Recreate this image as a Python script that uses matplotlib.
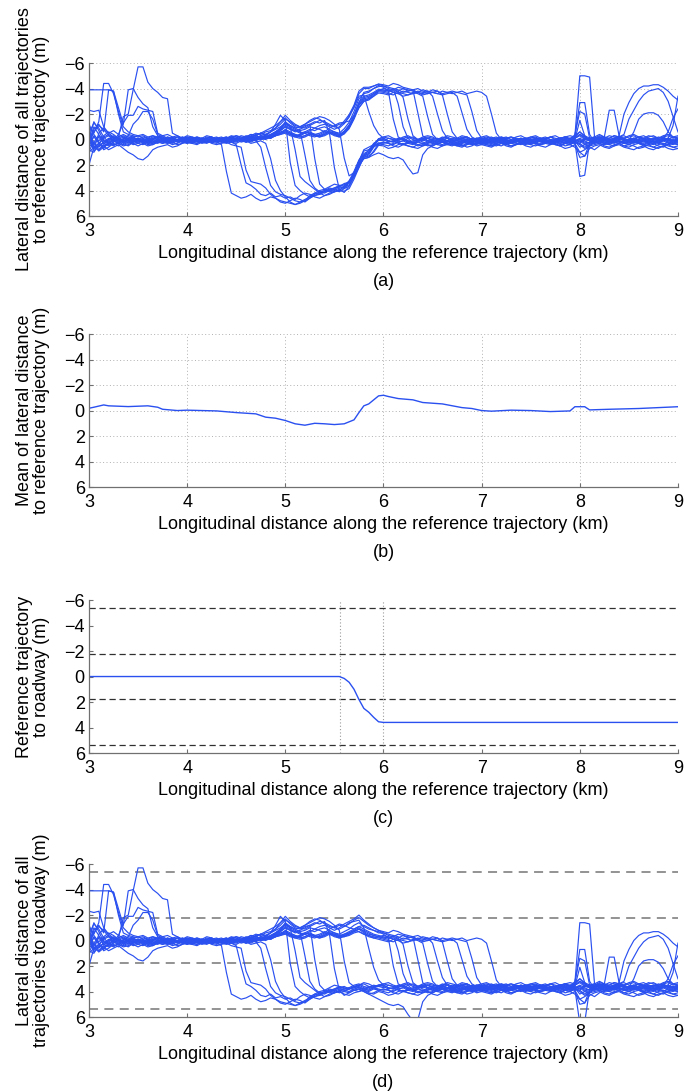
import numpy as np
import matplotlib
matplotlib.use("Agg")
import matplotlib.pyplot as plt

plt.rcParams['font.family'] = ['Liberation Sans', 'DejaVu Sans']

# sample positions along the reference trajectory (km), every 50 m
km = np.round(3.0 + 0.05 * np.arange(121), 2)

# reference trajectory to roadway (m), panel (c)
ref_road = [0.0] * 52 + [0.15, 0.45, 1.0, 1.8, 2.5, 2.8, 3.2, 3.55] + [3.6] * 61
ref_start = 5.556
ref_end = 6.0

# mean lateral distance to reference trajectory, panel (b)
mean_km = [3.0, 3.05, 3.15, 3.2, 3.4, 3.6, 3.7, 3.75, 3.9, 4.0, 4.3, 4.5, 4.7, 4.8,
           4.9, 5.0, 5.1, 5.2, 5.3, 5.4, 5.5, 5.6, 5.7, 5.75, 5.8, 5.85, 5.95, 6.0,
           6.05, 6.15, 6.3, 6.4, 6.6, 6.8, 6.9, 7.0, 7.1, 7.3, 7.5, 7.7, 7.9, 7.95,
           8.05, 8.1, 8.3, 8.6, 9.0]
mean_dist = [-0.18, -0.26, -0.44, -0.37, -0.31, -0.37, -0.26, -0.1, 0.0, -0.03, 0.03,
             0.16, 0.26, 0.52, 0.6, 0.78, 1.04, 1.15, 1.0, 1.04, 1.1, 1.04, 0.73, 0.16,
             -0.37, -0.52, -1.15, -1.2, -1.1, -0.94, -0.84, -0.63, -0.52, -0.23, -0.16,
             0.0, 0.05, -0.03, 0.0, 0.08, 0.03, -0.3, -0.3, -0.05, -0.1, -0.16, -0.3]

# lane markings (m from reference lane centre)
lane_lines = [-5.4, -1.8, 1.8, 5.4]

# lateral position of each vehicle trajectory to roadway (m), one row per km
traj01 = [-3.9, -3.9, -3.9, -3.9, -3.9, -3.8, -2.0, -0.6, -0.4, -0.3, -0.2, -0.3, -0.1, 0.0, -0.2, -0.3, -0.1, 0.1, 0.0, -0.2,
          -0.1, 0.0, 0.1, 0.0, -0.1, 0.1, 0.2, 0.4, 2.5, 4.2, 4.4, 4.6, 4.5, 4.3, 4.6, 4.8, 4.7, 4.5, 4.6, 4.9,
          5.0, 4.8, 4.6, 4.7, 4.9, 4.6, 4.4, 4.3, 4.1, 4.0, 3.8, 3.7, 3.9, 3.8, 3.6, 3.7, 3.8, 3.9, 3.7, 3.8,
          3.9, 3.8, 3.7, 3.9, 4.0, 3.8, 3.7, 3.6, 3.8, 3.9, 3.7, 3.8, 3.6, 3.7, 3.9, 3.8, 3.7, 3.6, 3.8, 3.7,
          3.6, 3.7, 3.8, 3.6, 3.5, 3.7, 3.8, 3.7, 3.6, 3.5, 3.6, 3.8, 3.7, 3.6, 3.7, 3.8, 3.6, 3.7, 3.9, 3.8,
          3.6, 3.9, 4.1, 3.8, 3.7, 3.9, 4.0, 3.8, 3.7, 3.9, 4.0, 3.8, 3.6, 3.7, 3.9, 4.0, 3.8, 3.7, 3.9, 4.0,
          3.8]
traj02 = [-1.0, -0.5, -1.4, -4.4, -4.4, -3.6, -2.2, -1.0, -0.6, -0.4, -0.3, -0.4, -0.2, -0.3, -0.1, -0.2, 0.0, -0.1, 0.1, 0.0,
          0.1, -0.1, 0.0, 0.2, 0.1, 0.0, 0.1, 0.2, 0.3, 0.2, 0.4, 2.0, 3.4, 3.6, 3.9, 4.3, 4.4, 4.2, 4.5, 4.4,
          4.6, 4.5, 4.7, 4.4, 4.2, 4.3, 4.5, 4.6, 4.4, 4.2, 4.1, 3.9, 4.0, 4.1, 3.9, 3.8, 4.0, 4.2, 4.4, 4.6,
          4.8, 5.0, 5.1, 5.0, 5.2, 5.8, 6.3, 6.2, 4.8, 4.3, 4.1, 3.9, 3.8, 3.9, 4.0, 3.8, 3.7, 3.9, 4.0, 3.8,
          3.7, 3.8, 3.9, 3.7, 3.6, 3.8, 3.9, 3.8, 3.7, 3.8, 3.9, 3.7, 3.6, 3.8, 3.9, 3.7, 3.8, 3.6, 3.5, 3.7,
          4.2, 4.0, 3.8, 3.9, 3.7, 3.6, 3.8, 3.9, 3.7, 3.8, 3.9, 3.7, 3.8, 4.0, 3.9, 3.7, 3.8, 3.9, 4.0, 3.8,
          3.9]
traj03 = [2.0, 0.6, 0.3, 0.5, 0.8, 0.6, 0.4, 0.7, 1.0, 1.2, 1.5, 1.6, 1.3, 0.8, 0.6, 0.5, 0.4, 0.6, 0.5, 0.3,
          0.2, 0.3, 0.4, 0.2, 0.1, 0.3, 0.4, 0.3, 0.2, 0.4, 0.5, 0.6, 2.4, 3.3, 3.4, 3.5, 3.8, 4.3, 4.6, 4.8,
          4.9, 5.0, 5.1, 4.9, 4.8, 4.6, 4.3, 4.1, 4.2, 4.0, 3.9, 3.7, 3.6, 3.8, 3.7, 3.5, 3.4, 3.6, 3.7, 3.5,
          3.4, 3.5, 3.6, 3.7, 3.5, 3.4, 3.6, 3.7, 3.5, 3.4, 3.5, 3.6, 3.4, 3.5, 3.7, 3.6, 3.5, 3.4, 3.6, 3.5,
          3.6, 3.5, 3.4, 3.6, 3.7, 3.5, 3.4, 3.5, 3.6, 3.7, 3.5, 3.4, 3.6, 3.5, 3.4, 3.6, 3.5, 3.4, 3.6, 3.5,
          3.3, 3.6, 3.5, 3.4, 3.6, 3.5, 3.3, 3.4, 3.6, 3.5, 3.4, 3.3, 3.5, 3.6, 3.4, 3.3, 3.5, 3.4, 3.3, 3.5,
          3.4]
traj04 = [0.5, -0.8, -1.2, -0.6, -3.9, -3.8, -2.5, -1.2, -3.9, -4.0, -3.3, -2.8, -2.5, -1.0, -0.3, -0.1, 0.0, -0.2, 0.1, 0.0,
          -0.2, 0.0, 0.1, -0.1, 0.0, 0.2, 0.1, -0.1, 0.0, 0.2, 0.3, 0.1, 0.2, 0.0, 0.1, 0.6, 2.2, 3.6, 4.1, 4.3,
          4.4, 4.6, 4.8, 4.9, 4.7, 4.5, 4.2, 4.0, 3.9, 4.1, 4.0, 3.8, 3.9, 4.0, 3.8, 3.7, 3.9, 4.0, 3.8, 3.9,
          4.0, 4.1, 3.9, 3.8, 4.0, 4.1, 4.2, 4.0, 3.9, 4.0, 4.1, 3.9, 3.8, 4.0, 4.1, 3.9, 4.0, 4.2, 4.1, 3.9,
          3.9, 4.0, 4.1, 3.9, 3.8, 4.0, 4.1, 4.0, 3.8, 3.9, 4.0, 4.1, 3.9, 3.8, 3.9, 4.0, 4.1, 3.9, 4.0, 4.2,
          4.6, 4.4, 4.1, 4.0, 3.9, 4.1, 4.2, 4.0, 3.9, 4.1, 4.2, 4.0, 3.9, 4.1, 4.0, 4.2, 4.3, 4.1, 4.0, 4.2,
          4.1]
traj05 = [-0.9, 0.4, -0.2, 0.3, 0.1, -0.1, -0.2, -1.8, -2.0, -3.9, -5.7, -5.7, -4.5, -4.0, -3.7, -3.3, -3.2, -0.5, -0.3, -0.1,
          0.0, -0.2, -0.1, 0.1, 0.0, -0.1, 0.1, 0.0, 0.2, 0.1, -0.1, 0.0, 0.1, 0.3, 0.2, 0.1, 0.3, 1.5, 3.2, 4.0,
          4.5, 4.9, 5.1, 5.0, 4.8, 4.4, 4.2, 4.3, 4.1, 3.9, 3.8, 3.6, 3.7, 3.8, 3.6, 3.5, 3.7, 3.8, 3.6, 3.5,
          3.6, 3.8, 3.7, 3.5, 3.6, 3.8, 3.9, 3.7, 3.6, 3.5, 3.7, 3.8, 3.6, 3.7, 3.8, 3.6, 3.5, 3.7, 3.8, 3.6,
          3.7, 3.8, 3.6, 3.5, 3.7, 3.8, 3.7, 3.6, 3.8, 3.9, 3.7, 3.6, 3.5, 3.7, 3.8, 3.6, 3.7, 3.5, 3.6, 3.8,
          3.9, 3.5, 3.6, 3.7, 3.5, 3.6, 3.8, 3.7, 3.5, 3.6, 3.8, 3.7, 3.6, 3.5, 3.7, 3.8, 3.6, 3.5, 3.7, 3.6,
          3.7]
traj06 = [1.0, 0.6, 0.8, 0.5, 0.3, 0.1, -0.4, -1.3, -1.9, -1.9, -2.6, -2.4, -2.3, -2.2, -0.5, -0.3, -0.4, -0.2, -0.3, -0.1,
          -0.3, -0.2, 0.0, -0.1, -0.3, -0.2, 0.0, 0.1, -0.1, -0.2, 0.0, -0.1, -0.3, -0.2, -0.4, -0.5, -0.3, -0.6, -1.2, -1.9,
          -1.5, 1.8, 3.6, 4.0, 4.3, 4.5, 4.4, 4.2, 4.0, 3.9, 4.1, 4.0, 3.8, 3.7, 3.9, 4.0, 3.8, 3.6, 3.7, 3.9,
          3.8, 3.9, 4.0, 3.8, 3.7, 3.9, 4.0, 3.8, 3.9, 4.1, 4.0, 3.8, 3.7, 3.9, 4.0, 4.1, 3.9, 3.8, 4.0, 3.9,
          3.8, 3.9, 4.0, 4.1, 3.9, 3.8, 3.9, 4.0, 3.9, 3.8, 3.7, 3.9, 4.0, 3.9, 3.8, 4.0, 4.1, 3.9, 3.8, 3.9,
          3.7, 4.0, 4.2, 4.4, 4.1, 3.9, 4.0, 4.1, 3.9, 3.8, 4.0, 4.1, 4.3, 4.2, 4.0, 3.9, 4.1, 4.2, 4.0, 3.9,
          4.0]
traj07 = [-2.3, -2.2, -2.3, -1.0, -0.5, -0.7, -0.4, -0.2, 0.0, 0.2, 0.1, -0.1, 0.3, 0.4, 0.2, 0.1, 0.3, 0.2, 0.0, 0.1,
          0.2, 0.0, 0.1, 0.3, 0.2, 0.0, -0.1, 0.1, 0.0, -0.2, -0.1, 0.0, 0.2, 0.1, -0.1, -0.3, -0.2, -0.4, -0.6, -0.9,
          -1.3, -1.0, 0.8, 2.9, 3.3, 3.6, 3.9, 4.2, 4.4, 4.3, 4.1, 4.0, 4.2, 4.3, 4.1, 4.0, 3.9, 4.1, 4.2, 4.0,
          4.1, 4.3, 4.2, 4.0, 3.9, 4.1, 4.2, 4.3, 4.1, 4.0, 4.2, 4.3, 4.1, 4.0, 3.9, 4.1, 4.2, 4.0, 3.9, 4.1,
          4.0, 3.9, 3.8, 4.0, 4.1, 3.9, 3.8, 3.9, 4.0, 3.8, 3.7, 3.9, 4.0, 3.8, 3.9, 3.8, 3.7, 3.9, 4.0, 3.8,
          4.0, 4.3, 4.1, 3.8, 3.9, 4.0, 3.9, 3.8, 3.9, 4.1, 4.0, 3.8, 3.9, 4.0, 4.1, 4.2, 4.0, 3.9, 4.1, 4.2,
          4.3]
traj08 = [0.3, -0.6, -1.1, -0.8, -0.3, 0.1, 0.3, 0.5, 0.4, 0.2, 0.0, 0.3, 0.5, 0.4, 0.2, 0.3, 0.1, 0.2, 0.4, 0.3,
          0.1, 0.2, 0.3, 0.1, 0.0, 0.1, 0.2, 0.0, -0.1, 0.1, 0.2, 0.0, -0.2, -0.1, 0.0, -0.3, -0.2, -0.1, -0.4, -0.7,
          -1.0, -0.8, -0.6, -0.7, 1.2, 3.2, 3.8, 4.1, 4.0, 3.8, 3.9, 4.1, 4.0, 3.8, 3.7, 3.6, 3.8, 3.9, 3.7, 3.6,
          3.7, 3.5, 3.6, 3.8, 3.7, 3.5, 3.4, 3.6, 3.7, 3.5, 3.6, 3.7, 3.5, 3.4, 3.6, 3.7, 3.5, 3.6, 3.8, 3.7,
          3.5, 3.6, 3.7, 3.5, 3.4, 3.6, 3.7, 3.8, 3.6, 3.5, 3.7, 3.6, 3.5, 3.4, 3.6, 3.7, 3.5, 3.6, 3.7, 3.5,
          3.2, 3.4, 3.6, 3.5, 3.3, 3.4, 3.6, 3.5, 3.4, 3.3, 3.5, 3.6, 3.4, 3.3, 3.5, 3.6, 3.4, 3.5, 3.6, 3.4,
          3.5]
traj09 = [-0.4, 0.9, 0.5, 0.2, 0.0, -0.2, 0.1, 0.0, -0.3, -1.2, -1.6, -2.2, -2.2, -1.6, -0.4, -0.2, 0.0, -0.1, 0.1, -0.2,
          0.0, 0.1, -0.1, 0.0, 0.2, 0.1, -0.1, -0.2, 0.0, 0.1, -0.1, -0.3, -0.2, -0.4, -0.3, -0.5, -0.7, -0.9, -1.1, -1.4,
          -1.7, -1.3, -1.0, -0.9, -1.1, -1.2, 1.5, 3.5, 3.9, 3.7, 3.5, 3.6, 3.8, 3.7, 3.5, 3.4, 3.6, 3.7, 3.5, 3.6,
          3.5, 3.7, 3.8, 3.6, 3.5, 3.7, 3.8, 3.6, 3.5, 3.7, 3.6, 3.5, 3.7, 3.8, 3.6, 3.5, 3.6, 3.7, 3.5, 3.6,
          3.8, 3.7, 3.5, 3.6, 3.8, 3.9, 3.7, 3.6, 3.7, 3.8, 3.6, 3.5, 3.7, 3.8, 3.6, 3.7, 3.9, 3.8, 3.6, 3.7,
          3.5, 3.7, 3.9, 3.7, 3.6, 3.8, 3.7, 3.6, 3.8, 3.9, 3.7, 3.6, 3.8, 3.7, 3.6, 3.8, 3.9, 3.7, 3.6, 3.8,
          3.7]
traj10 = [0.6, 0.2, 0.8, 0.4, 0.0, -0.3, -0.1, 0.2, 0.3, 0.1, -0.1, 0.0, 0.2, 0.3, 0.1, 0.0, 0.2, 0.4, 0.3, 0.1,
          0.3, 0.2, 0.0, -0.1, 0.1, 0.2, 0.0, -0.1, -0.2, 0.0, 0.1, -0.1, -0.2, 0.0, -0.1, -0.3, -0.2, -0.4, -0.6, -0.8,
          -1.1, -0.9, -0.7, -0.8, -1.0, -1.2, -1.4, -1.3, -1.5, -0.5, 2.2, 3.9, 4.3, 4.1, 3.9, 3.8, 4.0, 4.2, 4.1, 3.9,
          3.8, 3.9, 4.1, 4.2, 4.0, 3.9, 3.8, 4.0, 4.1, 3.9, 3.8, 4.0, 4.1, 3.9, 3.8, 4.0, 4.1, 3.9, 3.8, 3.9,
          4.0, 4.1, 4.2, 4.0, 3.9, 4.1, 4.2, 4.0, 3.9, 4.1, 4.2, 4.0, 4.1, 4.2, 4.0, 3.9, 4.1, 4.3, 4.2, 4.0,
          5.0, 4.9, 4.3, 4.1, 4.0, 4.2, 4.3, 4.1, 4.0, 4.2, 4.3, 4.4, 4.2, 4.1, 4.3, 4.4, 4.2, 4.1, 4.3, 4.4,
          4.3]
traj11 = [-0.5, -1.3, -0.9, -0.2, 0.2, 0.4, 0.3, 0.1, 0.2, 0.4, 0.3, 0.1, 0.0, 0.2, 0.3, 0.1, -0.1, 0.0, 0.2, 0.1,
          -0.1, 0.0, 0.2, 0.1, -0.1, -0.2, 0.0, 0.1, -0.1, -0.3, -0.2, 0.0, -0.2, -0.4, -0.3, -0.5, -0.4, -0.6, -0.8, -1.0,
          -1.3, -1.1, -0.9, -1.0, -1.2, -1.4, -1.6, -1.8, -1.7, -1.5, -1.2, -0.8, 1.6, 3.3, 3.6, 3.5, 3.3, 3.4, 3.6, 3.5,
          3.4, 3.3, 3.5, 3.6, 3.4, 3.3, 3.5, 3.6, 3.4, 3.3, 3.4, 3.6, 3.5, 3.3, 3.4, 3.5, 3.3, 3.4, 3.6, 3.5,
          3.4, 3.3, 3.5, 3.6, 3.4, 3.5, 3.6, 3.4, 3.3, 3.5, 3.4, 3.3, 3.5, 3.6, 3.4, 3.3, 3.5, 3.4, 3.3, 3.4,
          3.0, 3.3, 3.5, 3.4, 3.2, 3.4, 3.5, 3.3, 3.4, 3.5, 3.3, 3.2, 3.4, 3.5, 3.3, 3.4, 3.5, 3.3, 3.2, 3.4,
          3.3]
traj12 = [0.2, -1.0, -0.4, 0.3, 0.5, 0.2, 0.0, -0.2, 0.1, 0.3, 0.2, 0.0, -0.1, 0.1, 0.2, 0.0, -0.2, -0.1, 0.0, 0.2,
          0.1, -0.1, -0.2, 0.0, 0.1, -0.1, -0.2, 0.0, 0.1, -0.1, -0.3, -0.2, -0.1, -0.3, -0.5, -0.4, -0.6, -0.7, -0.9, -1.2,
          -1.6, -1.4, -1.1, -1.0, -1.2, -1.5, -1.7, -1.6, -1.3, -1.1, -1.0, -1.2, -1.1, -1.4, -1.5, -1.6, -1.0, 0.6, 2.1, 3.1,
          3.5, 3.7, 3.8, 3.6, 3.5, 3.7, 3.9, 3.8, 3.6, 3.5, 3.7, 3.8, 3.6, 3.5, 3.7, 3.8, 3.9, 3.7, 3.6, 3.8,
          3.7, 3.6, 3.8, 3.9, 3.7, 3.6, 3.8, 3.7, 3.6, 3.5, 3.7, 3.8, 3.6, 3.7, 3.8, 3.6, 3.5, 3.7, 3.8, 3.6,
          3.8, 3.6, 3.7, 3.9, 3.8, 3.6, 3.7, 3.8, 3.6, 3.5, 3.7, 3.0, 2.0, 1.6, 1.5, 1.5, 1.7, 2.2, 3.0, 3.4,
          3.6]
traj13 = [0.8, 1.0, 0.4, -0.2, -0.4, -0.1, 0.2, 0.0, -0.3, -0.2, 0.1, 0.2, 0.0, -0.2, -0.1, 0.1, 0.0, -0.1, 0.2, 0.1,
          0.0, 0.2, 0.1, -0.1, 0.0, 0.2, 0.1, -0.1, -0.2, 0.0, 0.1, -0.1, 0.0, 0.2, 0.0, -0.2, -0.1, -0.3, -0.5, -0.7,
          -1.0, -0.8, -0.7, -0.5, -0.6, -0.8, -0.7, -0.9, -1.0, -0.8, -0.6, -0.5, -0.7, -0.9, -1.2, -1.4, -1.1, -0.9, -0.8, -0.7,
          -0.5, -0.2, 2.0, 3.4, 3.6, 3.8, 3.9, 3.7, 3.6, 3.8, 3.9, 4.0, 3.8, 3.7, 3.9, 4.0, 3.8, 3.7, 3.6, 3.8,
          3.9, 3.8, 3.6, 3.7, 3.9, 4.0, 3.8, 3.7, 3.9, 4.0, 3.8, 3.9, 4.0, 3.9, 3.7, 3.8, 4.0, 3.9, 3.8, 3.3,
          -1.4, -1.4, -1.3, 3.4, 3.7, 3.9, 3.8, 3.6, 3.7, 3.9, 3.8, 3.7, 3.9, 4.0, 3.8, 3.7, 3.9, 4.0, 3.8, 3.9,
          4.0]
traj14 = [-0.2, 0.5, 0.9, 0.6, 0.3, 0.0, -0.2, -0.4, -0.2, 0.0, 0.2, 0.1, -0.1, -0.3, -0.2, 0.0, 0.1, -0.1, -0.2, 0.0,
          0.1, 0.0, -0.2, -0.1, 0.1, 0.0, -0.1, 0.1, 0.2, 0.0, -0.1, 0.1, 0.0, -0.2, -0.3, -0.1, -0.4, -0.3, -0.6, -0.9,
          -1.2, -1.0, -0.8, -0.6, -0.5, -0.7, -0.9, -0.8, -0.6, -0.9, -1.1, -1.3, -1.2, -1.0, -0.9, -1.1, -1.2, -1.0, -0.8, -0.6,
          -0.6, -0.5, -0.4, 0.8, 2.6, 3.5, 3.9, 4.1, 4.0, 3.8, 3.7, 3.9, 4.0, 3.8, 3.7, 3.9, 4.1, 4.0, 3.8, 3.7,
          3.8, 4.0, 4.1, 3.9, 3.8, 3.9, 4.1, 4.0, 3.8, 3.9, 4.0, 3.8, 3.7, 3.9, 4.0, 3.8, 3.9, 4.1, 4.0, 3.8,
          3.9, 4.2, 4.0, 3.8, 3.7, 3.4, 1.3, 1.3, 3.3, 3.6, 3.8, 3.9, 3.7, 3.6, 3.8, 3.9, 3.7, 3.6, 3.8, 3.9,
          3.7]
traj15 = [0.4, -0.2, 0.2, 0.8, 0.6, 0.3, 0.5, 0.2, 0.0, 0.1, 0.3, 0.4, 0.2, 0.0, 0.1, 0.3, 0.2, 0.0, 0.1, 0.2,
          0.3, 0.1, 0.0, 0.2, 0.3, 0.1, 0.0, 0.2, 0.1, -0.1, 0.0, 0.2, 0.1, -0.1, 0.0, -0.2, -0.1, -0.2, -0.4, -0.6,
          -0.7, -0.5, -0.4, -0.3, -0.5, -0.6, -0.4, -0.5, -0.7, -0.6, -0.4, -0.3, -0.5, -0.6, -0.8, -1.0, -0.7, -0.5, -0.4, -0.3,
          -0.2, -0.1, -0.3, -0.2, 0.3, 2.0, 3.3, 3.6, 3.5, 3.7, 3.8, 3.6, 3.5, 3.7, 3.8, 3.6, 3.5, 3.4, 3.6, 3.7,
          3.6, 3.5, 3.7, 3.8, 3.6, 3.5, 3.4, 3.6, 3.7, 3.5, 3.6, 3.8, 3.7, 3.5, 3.6, 3.7, 3.5, 3.4, 3.6, 3.8,
          6.5, 6.4, 3.8, 3.6, 3.5, 3.7, 3.8, 3.6, 3.5, 3.7, 3.6, 3.5, 3.7, 3.8, 3.6, 3.5, 3.7, 3.6, 3.5, 3.7,
          3.6]
traj16 = [-1.2, -0.4, 0.1, -0.3, -0.6, -0.4, -0.1, 0.1, 0.0, -0.2, -0.3, -0.1, 0.1, 0.2, 0.0, -0.1, 0.1, 0.0, -0.2, -0.1,
          -0.2, -0.1, 0.1, 0.0, -0.1, -0.2, 0.0, 0.1, -0.1, -0.2, -0.3, -0.1, 0.0, -0.2, -0.3, -0.5, -0.4, -0.6, -0.9, -1.4,
          -1.9, -1.5, -1.2, -1.0, -0.9, -1.1, -1.3, -1.5, -1.4, -1.2, -1.0, -0.9, -1.1, -1.3, -1.6, -1.8, -1.5, -1.2, -1.0, -0.8,
          -0.7, -0.6, -0.8, -0.7, -0.5, -0.4, -0.3, 1.5, 3.3, 3.7, 3.9, 3.8, 3.6, 3.7, 3.9, 4.0, 3.8, 3.7, 3.9, 4.0,
          3.8, 3.7, 3.9, 3.8, 3.6, 3.7, 3.9, 3.8, 3.7, 3.6, 3.8, 3.9, 3.7, 3.6, 3.8, 3.9, 3.7, 3.8, 3.9, 3.7,
          3.6, 3.8, 3.9, 3.7, 3.6, 3.8, 3.9, 3.7, 3.3, 1.6, 0.7, 0.0, -0.4, -0.6, -0.6, -0.7, -0.7, -0.5, -0.2, 0.2,
          0.5]
traj17 = [0.9, 0.2, -0.3, 0.0, 0.3, 0.5, 0.2, -0.1, 0.1, 0.3, 0.5, 0.3, 0.1, -0.1, 0.0, 0.2, 0.3, 0.1, 0.0, 0.1,
          0.2, 0.3, 0.1, 0.0, 0.2, 0.1, -0.1, 0.0, 0.2, 0.1, 0.0, -0.1, 0.1, 0.0, -0.2, -0.1, -0.3, -0.2, -0.4, -0.5,
          -0.8, -0.6, -0.4, -0.2, -0.3, -0.5, -0.4, -0.3, -0.5, -0.7, -0.6, -0.4, -0.3, -0.5, -0.7, -0.9, -0.6, -0.4, -0.2, -0.1,
          0.0, 0.1, -0.1, 0.0, 0.2, 0.1, -0.1, 0.0, 0.2, 1.8, 3.2, 3.6, 3.8, 3.7, 3.5, 3.6, 3.8, 3.9, 3.7, 3.6,
          3.7, 3.8, 3.6, 3.5, 3.7, 3.8, 3.9, 3.7, 3.6, 3.8, 3.9, 3.8, 3.6, 3.7, 3.9, 3.8, 3.6, 3.7, 3.8, 3.4,
          0.7, 0.7, 3.2, 3.8, 3.9, 3.7, 3.6, 3.8, 3.9, 3.7, 3.6, 3.8, 3.9, 3.7, 3.8, 3.9, 3.7, 3.6, 3.8, 3.7,
          3.8]
traj18 = [-0.7, 0.7, 0.3, -0.1, -0.3, -0.2, 0.0, 0.2, 0.1, -0.1, 0.0, 0.2, 0.4, 0.3, 0.1, 0.0, -0.2, 0.0, 0.1, 0.0,
          -0.1, 0.0, 0.1, 0.2, 0.0, -0.1, 0.1, 0.2, 0.0, -0.1, 0.0, 0.1, -0.1, -0.2, 0.0, -0.1, -0.2, -0.1, -0.3, -0.5,
          -0.6, -0.4, -0.2, -0.1, -0.2, -0.4, -0.3, -0.2, -0.3, -0.5, -0.4, -0.2, -0.3, -0.4, -0.6, -0.7, -0.5, -0.3, -0.2, -0.3,
          -0.4, -0.3, -0.1, -0.2, -0.4, -0.3, -0.2, -0.1, -0.3, -0.2, 0.2, 1.6, 2.9, 3.5, 3.7, 3.6, 3.4, 3.5, 3.7, 3.6,
          3.5, 3.4, 3.6, 3.7, 3.5, 3.4, 3.6, 3.7, 3.5, 3.6, 3.4, 3.5, 3.7, 3.6, 3.4, 3.5, 3.6, 3.4, 3.5, 3.3,
          3.0, 3.4, 3.6, 3.5, 3.4, 3.6, 3.5, 3.3, 3.4, 3.2, 2.0, 1.3, 0.6, 0.1, -0.2, -0.3, -0.4, -0.1, 0.6, 1.8,
          3.0]
traj19 = [0.0, -1.4, -0.7, 0.1, 0.4, 0.2, -0.1, -0.3, -0.1, 0.1, 0.0, -0.2, -0.1, 0.1, 0.2, 0.0, -0.1, 0.1, 0.0, -0.1,
          0.0, 0.1, -0.1, 0.0, 0.1, 0.2, 0.0, -0.1, 0.0, 0.1, -0.1, 0.0, 0.1, -0.1, -0.2, 0.0, -0.1, -0.3, -0.5, -0.8,
          -1.4, -1.1, -0.9, -0.7, -0.8, -1.0, -0.9, -1.1, -1.2, -1.0, -0.8, -1.0, -1.3, -1.5, -1.7, -2.0, -1.6, -1.3, -1.0, -0.8,
          -0.6, -0.4, -0.3, -0.5, -0.4, -0.2, -0.3, -0.4, -0.2, -0.1, -0.3, -0.2, 0.1, 1.6, 3.0, 3.5, 3.7, 3.8, 3.6, 3.5,
          3.6, 3.7, 3.5, 3.4, 3.6, 3.7, 3.8, 3.6, 3.5, 3.7, 3.8, 3.6, 3.5, 3.6, 3.8, 3.7, 3.5, 3.6, 3.7, 3.2,
          1.4, 1.6, 3.5, 3.6, 3.4, 3.5, 3.7, 3.6, 3.4, 3.5, 3.7, 3.6, 3.4, 3.5, 3.7, 3.6, 3.5, 3.4, 3.6, 3.7,
          3.5]
traj20 = [0.5, -0.3, 0.3, 0.7, 0.2, 0.0, 0.3, 0.4, 0.2, 0.0, -0.1, 0.1, 0.3, 0.2, 0.0, 0.1, 0.2, 0.3, 0.1, 0.2,
          0.1, 0.2, 0.3, 0.1, 0.0, 0.2, 0.3, 0.1, 0.0, 0.2, 0.1, 0.0, 0.2, 0.1, 0.0, -0.1, 0.0, -0.2, -0.3, -0.4,
          -0.5, -0.3, -0.2, -0.4, -0.5, -0.3, -0.2, -0.4, -0.6, -0.5, -0.3, -0.2, -0.4, -0.6, -0.8, -0.7, -0.5, -0.4, -0.3, -0.2,
          -0.1, 0.0, 0.1, -0.1, 0.0, 0.1, 0.0, -0.1, 0.1, 0.0, -0.1, 0.0, 0.1, 0.0, -0.1, 0.2, 1.5, 2.8, 3.4, 3.6,
          3.7, 3.8, 3.9, 3.7, 3.6, 3.8, 3.9, 3.7, 3.6, 3.8, 3.9, 3.7, 3.8, 3.9, 3.7, 3.6, 3.8, 3.9, 3.7, 3.9,
          4.6, 4.9, 3.9, 3.7, 3.8, 3.9, 3.7, 3.6, 3.8, 3.9, 3.7, 3.6, 3.8, 3.9, 3.7, 3.8, 3.6, 3.5, 3.0, 1.9,
          1.2]
traj21 = [-0.3, 0.3, 0.6, 0.2, -0.1, 0.1, 0.3, 0.1, -0.1, -0.2, 0.0, 0.2, 0.1, -0.1, 0.0, 0.2, 0.1, -0.1, 0.0, 0.1,
          0.0, -0.1, 0.1, 0.0, -0.2, -0.1, 0.1, 0.0, -0.1, 0.0, 0.1, 0.0, -0.1, 0.0, 0.1, -0.1, -0.2, -0.1, -0.3, -0.4,
          -0.6, -0.4, -0.3, -0.2, -0.3, -0.5, -0.4, -0.3, -0.4, -0.6, -0.5, -0.3, -0.4, -0.5, -0.7, -0.9, -0.8, -0.6, -0.4, -0.3,
          -0.2, -0.3, -0.1, 0.0, -0.2, -0.1, 0.0, -0.2, -0.1, 0.0, -0.1, -0.2, 0.0, -0.1, -0.2, -0.1, 0.0, 0.1, 1.4, 2.9,
          3.5, 3.6, 3.8, 3.7, 3.5, 3.6, 3.8, 3.7, 3.5, 3.6, 3.7, 3.5, 3.6, 3.8, 3.7, 3.6, 3.5, 3.7, 3.8, 3.6,
          2.1, 3.3, 3.7, 3.6, 3.5, 3.7, 3.6, 3.5, 3.7, 3.8, 3.6, 3.5, 3.7, 3.6, 3.5, 3.7, 3.8, 3.6, 3.5, 3.7,
          3.6]
traj22 = [0.1, 0.8, -0.5, -0.9, -0.5, -0.2, 0.0, 0.3, 0.5, 0.2, 0.0, 0.1, 0.2, 0.0, -0.2, -0.1, 0.1, 0.2, 0.0, -0.1,
          0.1, 0.0, -0.1, 0.1, 0.2, 0.0, -0.1, 0.0, 0.1, 0.0, -0.1, 0.1, 0.0, -0.1, -0.2, 0.0, -0.1, -0.2, -0.3, -0.5,
          -0.7, -0.5, -0.3, -0.4, -0.6, -0.5, -0.3, -0.2, -0.4, -0.6, -0.5, -0.4, -0.5, -0.7, -0.9, -1.1, -0.9, -0.7, -0.5, -0.4,
          -0.3, -0.2, -0.4, -0.3, -0.1, -0.2, -0.3, -0.1, 0.0, -0.2, -0.1, 0.0, -0.2, -0.1, 0.0, -0.1, -0.2, 0.0, -0.1, -0.2,
          -0.1, 0.2, 1.6, 3.1, 3.6, 3.8, 3.7, 3.5, 3.6, 3.8, 3.7, 3.6, 3.5, 3.7, 3.8, 3.6, 3.5, 3.7, 3.6, 3.5,
          3.2, 3.5, 3.7, 3.6, 3.4, 3.5, 3.7, 3.6, 3.5, 3.7, 3.6, 3.5, 3.4, 3.6, 3.7, 3.5, 3.6, 3.7, 3.5, 2.5,
          0.2]

trajectories = [traj01, traj02, traj03, traj04, traj05, traj06, traj07, traj08, traj09, traj10, traj11,
                traj12, traj13, traj14, traj15, traj16, traj17, traj18, traj19, traj20, traj21, traj22]
assert len(ref_road) == len(km), len(ref_road)
assert all(len(t) == len(km) for t in trajectories), [len(t) for t in trajectories]

xlabel = "Longitudinal distance along the reference trajectory (km)"
ylabels = ["Lateral distance of all trajectories\nto reference trajectory (m)",
           "Mean of lateral distance\nto reference trajectory (m)",
           "Reference trajectory\nto roadway (m)",
           "Lateral distance of all\ntrajectories to roadway (m)"]
captions = ["(a)", "(b)", "(c)", "(d)"]

blue = "#2a50f0"
fs = 13


def style(ax, ylabel, caption, grid):
    """
    MATLAB-like axes: inverted lateral axis, left/bottom spines only
    """
    ax.set_xlim(3, 9)
    ax.set_ylim(6, -6)
    ax.set_xticks(range(3, 10))
    ax.set_yticks(range(-6, 7, 2))
    for s in ("top", "right"):
        ax.spines[s].set_visible(False)
    for s in ("left", "bottom"):
        ax.spines[s].set_color("#707070")
        ax.spines[s].set_linewidth(0.9)
    ax.tick_params(direction="in", length=3, color="#707070", labelsize=fs)
    ax.tick_params(axis="x", pad=5)
    ax.tick_params(axis="y", pad=3)
    if grid:
        ax.grid(True, linestyle=(0, (1, 2.5)), color="#b0b0b0", linewidth=0.7)
    ax.set_axisbelow(True)
    ax.set_xlabel(xlabel, fontsize=fs)
    ax.xaxis.set_label_coords(0.5, -0.19)
    ax.set_ylabel(ylabel, fontsize=fs, linespacing=1.0)
    ax.yaxis.set_label_coords(-0.066, 0.5)
    ax.text(0.5, -0.43, caption, transform=ax.transAxes, ha="center", va="center", fontsize=fs)


fig = plt.figure(figsize=(6.94, 10.91), dpi=100)
left, width, height = 0.1282, 0.8487, 0.1402
bottoms = [0.802, 0.5536, 0.3098, 0.0678]
axs = [fig.add_axes([left, b, width, height]) for b in bottoms]

ref = np.array(ref_road)

# (a) trajectories relative to the reference trajectory
ax = axs[0]
for t in trajectories:
    ax.plot(km, np.array(t) - ref, color=blue, linewidth=0.85)
style(ax, ylabels[0], captions[0], True)

# (b) mean lateral distance
ax = axs[1]
ax.plot(mean_km, mean_dist, color=blue, linewidth=1.0)
style(ax, ylabels[1], captions[1], True)

# (c) reference trajectory to roadway
ax = axs[2]
for y in lane_lines:
    ax.axhline(y, color="#303030", linestyle=(0, (5, 3)), linewidth=0.9)
for x in (ref_start, ref_end):
    ax.axvline(x, color="#9a9a9a", linestyle=(0, (1, 2)), linewidth=0.8)
ax.plot(km, ref_road, color=blue, linewidth=1.0)
style(ax, ylabels[2], captions[2], False)

# (d) trajectories relative to the roadway
ax = axs[3]
for y in lane_lines:
    ax.axhline(y, color="#8a8a8a", linestyle=(0, (5, 3.5)), linewidth=1.3, zorder=1)
for t in trajectories:
    ax.plot(km, t, color=blue, linewidth=0.85, zorder=2)
style(ax, ylabels[3], captions[3], False)

fig.savefig("out.png", dpi=100)
